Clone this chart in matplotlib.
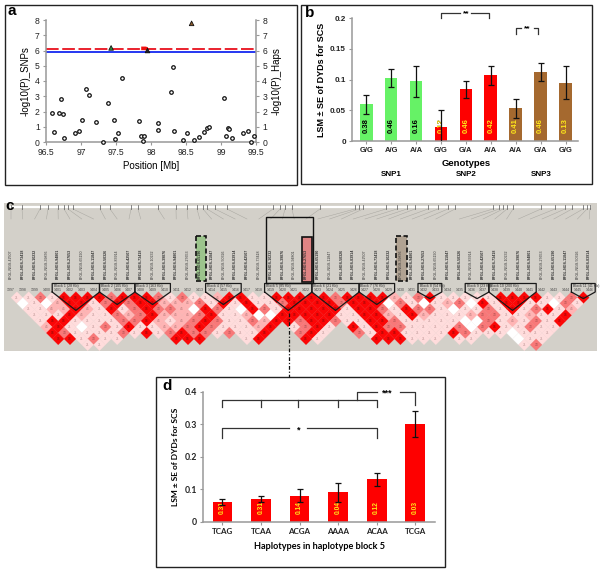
import matplotlib
matplotlib.use("Agg")
import matplotlib.pyplot as plt
from matplotlib.patches import Rectangle

W, H = 600, 570
plt.rcParams["font.family"] = ["Liberation Sans", "DejaVu Sans"]

# panel a
snp_pos = [96.59, 96.62, 96.68, 96.74, 96.71, 96.76, 96.91, 96.97, 97.01, 97.07, 97.11,
           97.22, 97.31, 97.38, 97.47, 97.49, 97.53, 97.59, 97.83, 97.86, 97.88, 97.9,
           98.1, 98.1, 98.29, 98.31, 98.33, 98.46, 98.51, 98.61, 98.69, 98.75, 98.8,
           98.83, 99.04, 99.07, 99.1, 99.12, 99.15, 99.32, 99.38, 99.43, 99.47]
snp_p = [1.92, 0.63, 1.92, 1.83, 2.82, 0.28, 0.62, 0.72, 1.47, 3.46, 3.07,
         1.28, 0.03, 2.59, 1.41, 0.2, 0.57, 4.17, 1.35, 0.41, 0.05, 0.41,
         1.26, 0.8, 3.26, 4.91, 0.72, 0.13, 0.57, 0.15, 0.33, 0.63, 0.89,
         1.0, 2.91, 0.41, 0.93, 0.83, 0.28, 0.61, 0.72, 0.02, 0.41]
top_pos = [97.43, 98.58, 97.95]
top_p = [6.17, 7.78, 6.0]
top_col = ["#2e8b3d", "#8b5a2b", "#222222"]
hap_pos = [97.86, 97.89, 97.92, 97.95]
hap_p = [6.14, 6.14, 6.14, 6.1]

# panel b
geno = ["G/G", "A/G", "A/A", "G/G", "G/A", "A/A", "A/A", "G/A", "G/G"]
lsm_b = [0.06, 0.103, 0.097, 0.023, 0.084, 0.107, 0.053, 0.112, 0.095]
se_b = [0.0155, 0.0145, 0.0245, 0.028, 0.014, 0.0155, 0.0155, 0.0145, 0.0265]
freq_b = ["0.38", "0.46", "0.16", "0.12", "0.46", "0.42", "0.41", "0.46", "0.13"]
col_b = ["#66f266"] * 3 + ["#fe0000"] * 3 + ["#a5692f"] * 3

# panel d
haps = ["TCAG", "TCAA", "ACGA", "AAAA", "ACAA", "TCGA"]
lsm_d = [0.06, 0.07, 0.08, 0.09, 0.13, 0.30]
se_d = [0.01, 0.01, 0.02, 0.03, 0.02, 0.04]
freq_d = ["0.31", "0.31", "0.14", "0.04", "0.12", "0.03"]

# panel c, one string per LD row: 0 white .. 4 red, "." no cell
ld_rows = [
    "113144443444" "313112441144" "444344442134" "1111144441134",
    "010244134344" "222314141134" "444344403101" "230414411031",
    "112242141343" "320431043144" "444144314331" "01131413412",
    "111421132342" "22341120044" "444114421421" "11233112114",
    "14411113342" "123431132443" "443114431111" "1003121314",
    "241013141" "12234311124." "1341.41433111" "1303411311",
    "4311113141" "343313114." ".341..31441111" "431110111",
    "441311...." "444...14.." ".41....444" "111.11...011",
    "..11" + "." * 35 + "13",
]
ld_cols = {"0": "#ffffff", "1": "#ffdcdc", "2": "#ffb4b4", "3": "#f87878", "4": "#fb0606"}
ld_text = {"0": "", "1": "21", "2": "45", "3": "73", "4": "94"}
ld_tcol = {"0": "#c09090", "1": "#c09898", "2": "#a87070", "3": "#904040", "4": "#8a0606"}
blocks = [(4, 7, "Block 1 (28 Kb)"), (8, 10, "Block 2 (105 Kb)"), (11, 13, "Block 3 (163 Kb)"),
          (17, 19, "Block 4 (57 Kb)"), (22, 25, "Block 5 (85 Kb)"), (26, 29, "Block 6 (21 Kb)"),
          (30, 32, "Block 7 (76 Kb)"), (35, 36, "Block 8 (54 Kb)"), (39, 40, "Block 9 (23 Kb)"),
          (41, 44, "Block 10 (200 Kb)"), (48, 49, "Block 11 (41 Kb)")]
map_ticks = [11, 22, 40, 48, 58, 64, 68, 73, 100, 110, 131, 138, 158, 176, 187, 197, 203, 207,
             215, 227, 273, 280, 285, 292, 320, 355, 359, 363, 386, 397, 407, 415, 428, 438,
             448, 455, 493, 499, 503, 507, 513, 541, 555, 565, 572, 583, 587, 590]
marker_ids = [1397 + i for i in range(0, 50)]
name_ends = ["42507", "73418", "10232", "39876", "94801", "27653", "65190", "11847", "50326", "83914"]


def add_ax(l, t, r, b):
    ax = fig.add_axes([l / W, 1 - b / H, (r - l) / W, (b - t) / H])
    ax.patch.set_alpha(0)
    return ax


def style(ax):
    for s in ["top", "right"]:
        ax.spines[s].set_visible(False)
    for s in ["left", "bottom"]:
        ax.spines[s].set_color("#999999")
        ax.spines[s].set_linewidth(1.1)
    ax.tick_params(colors="#222222", color="#999999", length=2.5, width=0.8, pad=2)


def bar_panel(ax, vals, errs, freqs, cols, txtcols, y0, fs):
    bars = ax.bar(range(len(vals)), vals, width=0.51, color=cols, zorder=2)
    ax.errorbar(range(len(vals)), vals, yerr=errs, fmt="none", ecolor="#111111",
                elinewidth=0.9, capsize=2.5, capthick=0.9, zorder=4)
    for i, (b, f, c) in enumerate(zip(bars, freqs, txtcols)):
        t = ax.text(i, y0, f, rotation=90, ha="center", va="bottom", fontsize=fs,
                    fontweight="bold", color=c, zorder=3)
    return bars


fig = plt.figure(figsize=(6, 5.7), dpi=100)
bg = fig.add_axes([0, 0, 1, 1])
bg.set_xlim(0, W)
bg.set_ylim(H, 0)
bg.axis("off")

# frames
for l, t, r, b in [(4.5, 5, 296.5, 185), (301, 4.5, 592, 184), (156, 377, 445, 567)]:
    bg.add_patch(Rectangle((l, t), r - l, b - t, fc="white", ec="#222222", lw=1.0, zorder=5))
for s, x, y in [("a", 7, 11), ("b", 305, 13), ("c", 5, 206), ("d", 162, 386)]:
    bg.text(x, y, s, fontsize=11, fontweight="bold", va="center", zorder=9)

# panel a
axa = add_ax(46, 20, 256, 142)
axa.set_xlim(96.5, 99.5)
axa.set_ylim(0, 8)
style(axa)
axa.spines["right"].set_visible(True)
axa.spines["right"].set_color("#999999")
axa.spines["right"].set_linewidth(1.1)
axa.scatter(snp_pos, snp_p, s=6.5, facecolors="white", edgecolors="#111111", linewidths=0.9,
            zorder=3, clip_on=False)
axa.axhline(5.87, color="#1428f0", lw=1.3, zorder=2)
axa.axhline(6.1, color="#e8101c", lw=1.3, ls=(0, (7, 2)), zorder=2)
axa.plot(hap_pos, hap_p, color="#f01010", lw=2.6, zorder=3, solid_capstyle="butt")
axa.scatter(top_pos, top_p, marker="^", s=11, c=top_col, edgecolors="#111111", linewidths=0.6, zorder=4)
axa.set_xticks([96.5, 97, 97.5, 98, 98.5, 99, 99.5])
axa.set_xticklabels(["96.5", "97", "97.5", "98", "98.5", "99", "99.5"], fontsize=6.2)
axa.set_yticks(range(9))
axa.tick_params(axis="y", labelsize=6.2, left=True, right=True, labelleft=True, labelright=True)
axa.set_xlabel("Position [Mb]", fontsize=7, labelpad=3)
axa.set_ylabel("-log10(P)_SNPs", fontsize=7, labelpad=3)
bg.text(277, 81, "-log10(P)_Haps", fontsize=7, rotation=90, ha="center", va="center", zorder=9)

# panel b
axb = add_ax(352, 18.3, 578, 141)
axb.set_xlim(-0.57, 8.5)
axb.set_ylim(0, 0.2)
style(axb)
bars_b = bar_panel(axb, lsm_b, se_b, freq_b, col_b, ["black"] * 3 + ["#ffe81a"] * 6, 0.0125, 5.5)
# the 0.12 label runs past the top of its bar, yellow only inside the bar
axb.texts[3].set_clip_path(bars_b[3])
axb.text(3, 0.0125, freq_b[3], rotation=90, ha="center", va="bottom", fontsize=5.5,
         fontweight="bold", color="#222222", zorder=1)
axb.set_xticks(range(9))
axb.set_xticklabels(geno, fontsize=5.5, fontweight="bold")
axb.set_yticks([0, 0.05, 0.1, 0.15, 0.2])
axb.set_yticklabels(["0", "0.05", "0.1", "0.15", "0.2"], fontsize=5.8, fontweight="bold")
axb.set_ylabel("LSM \u00b1 SE of DYDs for SCS", fontsize=6.5, fontweight="bold", labelpad=3)
bk = dict(color="#333333", lw=0.9, clip_on=False, zorder=5)
axb.plot([3, 3, 3.75], [0.2, 0.209, 0.209], **bk)
axb.plot([4.2, 4.92, 4.92], [0.209, 0.209, 0.2], **bk)
axb.text(4, 0.207, "**", ha="center", va="center", fontsize=6, fontweight="bold")
axb.plot([6.01, 6.01, 6.2], [0.175, 0.185, 0.185], **bk)
axb.plot([6.72, 6.9, 6.9], [0.185, 0.185, 0.175], **bk)
axb.text(6.45, 0.183, "**", ha="center", va="center", fontsize=6, fontweight="bold")
bg.text(466, 164, "Genotypes", fontsize=6.8, fontweight="bold", ha="center", va="center", zorder=9)
for s, x in [("SNP1", 391), ("SNP2", 466), ("SNP3", 541)]:
    bg.text(x, 175, s, fontsize=5.8, fontweight="bold", ha="center", va="center", zorder=9)

# panel c
bg.add_patch(Rectangle((4, 203), 593, 148, fc="#d3d0c9", ec="none", zorder=1))
s = 11.8
m = [11 + s * i for i in range(50)]
bg.plot([11, 590], [207.3, 207.3], color="white", lw=1.6, zorder=2)
for i, t in enumerate(map_ticks):
    k = round(i * 49 / (len(map_ticks) - 1))
    bg.plot([t, t], [204.5, 209], color="#555555", lw=0.5, zorder=3)
    bg.plot([t, m[k]], [209, 219], color="#a8a6a0", lw=0.35, zorder=2)
for i in range(50):
    bg.text(m[i], 279, "BFGL-NGS-" + name_ends[i % 10], rotation=90, fontsize=2.6, ha="center",
            va="bottom", color="#333333", fontweight="bold" if i % 3 else "normal", zorder=4)
    bg.text(m[i], 290, str(marker_ids[i]), fontsize=2.5, ha="center", va="center", color="#444444", zorder=4)

for k, row in enumerate(ld_rows):
    for i, c in enumerate(row):
        if c == ".":
            continue
        x = m[i] + (k + 1) * s / 2
        y = 297.6 + k * s / 2
        bg.fill([x - s / 2, x, x + s / 2, x], [y, y - s / 2, y, y + s / 2], color=ld_cols[c], lw=0.15, zorder=2)
        bg.text(x, y, ld_text[c], fontsize=2.3, ha="center", va="center", color=ld_tcol[c], zorder=3)

for a, b, lab in blocks:
    xs = [m[a] - 6, m[a] - 6, m[b] + 6, m[b] + 6, (m[a] + m[b]) / 2, m[a] - 6]
    tip = 291.7 + (b - a) * s / 2 + 1
    bg.plot(xs, [292, 283.5, 283.5, 292, tip, 292], color="#1a1a1a", lw=0.9, zorder=4)
    bg.text(m[a] - 4.5, 286, lab, fontsize=2.6, va="center", color="#333333", zorder=4)

bg.add_patch(Rectangle((195.5, 236), 10.5, 45, fc="#9cc48c", ec="#111111", lw=1.2, ls=(0, (3, 1.5)), zorder=3))
bg.add_patch(Rectangle((396, 236), 10.5, 45, fc="#b0a292", ec="#111111", lw=1.2, ls=(0, (3, 1.5)), zorder=3))
bg.add_patch(Rectangle((265.5, 217), 47.5, 66, fc="none", ec="#111111", lw=1.0, zorder=4))
bg.add_patch(Rectangle((301.5, 237), 10.5, 45, fc="#e08484", ec="#111111", lw=1.2, zorder=3))
bg.plot([289, 289], [313, 377], color="#111111", lw=0.9, ls=(0, (3, 1.5, 1, 1.5)), zorder=6)

# panel d
axd = add_ax(203, 391.7, 435, 521.7)
axd.set_xlim((160 - 218) / 115.6, (855 - 218) / 115.6)
axd.set_ylim(0, 0.4)
style(axd)
bar_panel(axd, lsm_d, se_d, freq_d, ["#fe0000"] * 6, ["#ffe81a"] * 6, 0.023, 4.8)
axd.set_xticks(range(6))
axd.set_xticklabels(haps, fontsize=5.8, fontweight="bold", family="Lato")
axd.set_yticks([0, 0.1, 0.2, 0.3, 0.4])
axd.set_yticklabels(["0", "0.1", "0.2", "0.3", "0.4"], fontsize=6.3, fontweight="bold", family="Lato")
axd.set_xlabel("Haplotypes in haplotype block 5", fontsize=6.6, fontweight="bold", family="Lato", labelpad=5)
axd.set_ylabel("LSM \u00b1 SE of DYDs for SCS", fontsize=6, fontweight="bold", family="Lato", labelpad=4)
axd.plot([0, 0, 4, 4], [0.354, 0.374, 0.374, 0.354], **bk)
for i in [1, 1.97, 3]:
    axd.plot([i, i], [0.374, 0.354], **bk)
axd.plot([3.5, 3.5, 4.0], [0.374, 0.4, 0.4], **bk)
axd.plot([4.6, 5, 5], [0.4, 0.4, 0.36], **bk)
axd.text(4.26, 0.395, "***", ha="center", va="center", fontsize=6.5, fontweight="bold")
axd.plot([0, 0, 1.72], [0.259, 0.287, 0.287], **bk)
axd.plot([2.2, 4, 4], [0.287, 0.287, 0.259], **bk)
axd.text(1.97, 0.283, "*", ha="center", va="center", fontsize=6.5, fontweight="bold")

fig.savefig("out.png", dpi=100)
